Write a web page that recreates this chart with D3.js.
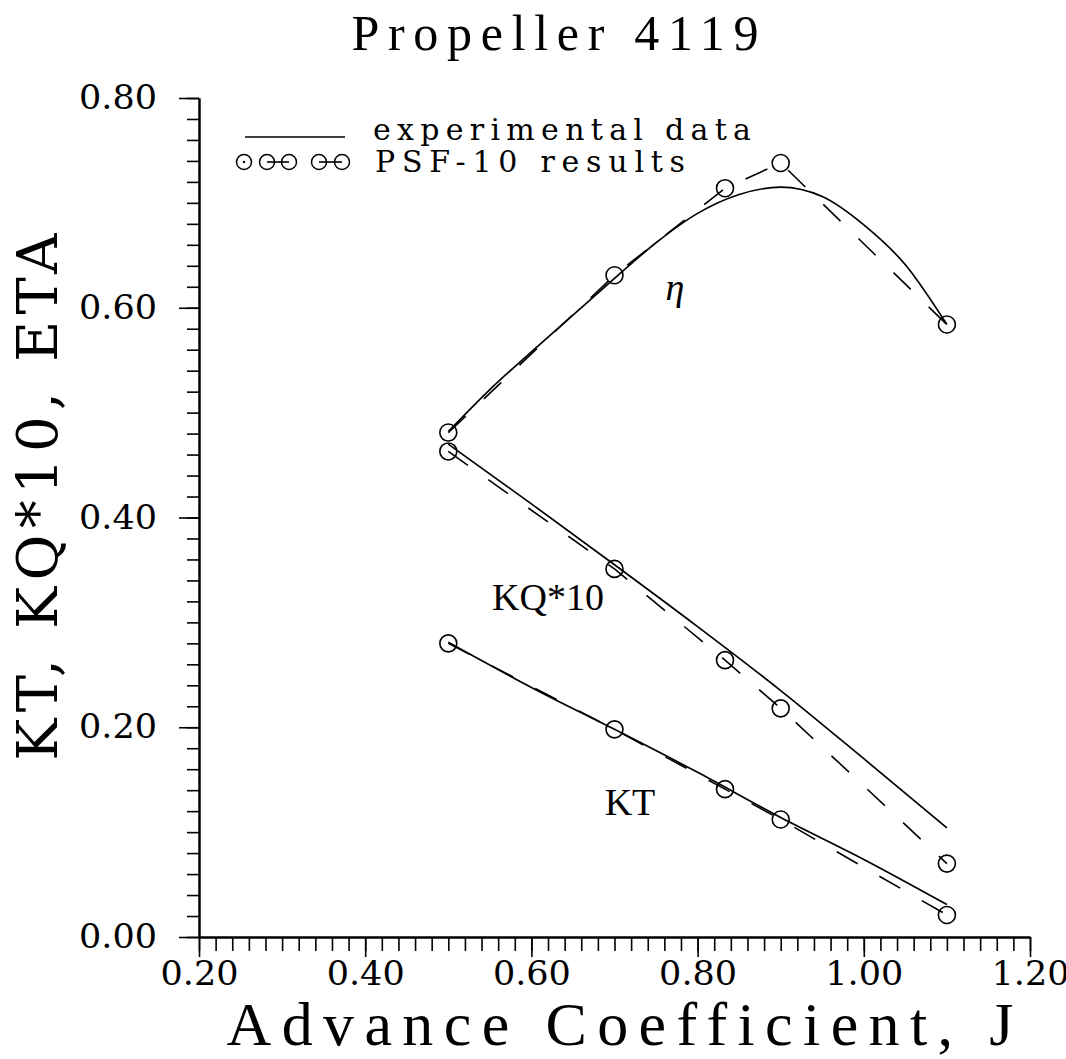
<!DOCTYPE html>
<html>
<head>
<meta charset="utf-8">
<script src="https://cdn.jsdelivr.net/npm/d3@7"></script>
<style>
  body { margin: 0; background: #fff; }
</style>
</head>
<body>
<div id="chart"></div>
<script>
var chartWidth = 1066;
var chartHeight = 1059;

// Experimental data (solid curves)
var etaJ = [0.5, 0.55, 0.6, 0.65, 0.7, 0.75, 0.8, 0.85, 0.9, 0.95, 1.0, 1.05, 1.1];
var etaExp = [0.482, 0.522, 0.558, 0.593, 0.628, 0.662, 0.690, 0.708, 0.715, 0.706, 0.679, 0.641, 0.584];
var coefJ = [0.5, 0.6, 0.7, 0.8, 0.9, 1.0, 1.1];
var kqExp = [0.470, 0.413, 0.355, 0.296, 0.235, 0.170, 0.104];
var ktExp = [0.281, 0.238, 0.198, 0.157, 0.114, 0.074, 0.031];

// PSF-10 results (circles + dashed)
var psfJ = [0.5, 0.7, 0.833, 0.9, 1.1];
var psfETA = [0.481, 0.631, 0.714, 0.738, 0.584];
var psfKQ = [0.463, 0.351, 0.264, 0.218, 0.070];
var psfKT = [0.280, 0.198, 0.141, 0.112, 0.021];

var xTicks = [0.2, 0.4, 0.6, 0.8, 1.0, 1.2];
var yTicks = [0.0, 0.2, 0.4, 0.6, 0.8];

var serif = '"Liberation Serif", "Times New Roman", serif';
var wide = '"DejaVu Serif", serif';

var svg = d3.select('#chart')
    .append('svg')
    .attr('width', chartWidth)
    .attr('height', chartHeight);

// Scales
var scaleX = d3.scaleLinear().domain([0.2, 1.2]).range([199, 1030]);
var scaleY = d3.scaleLinear().domain([0, 0.8]).range([937, 98]);

var xMinor = d3.range(0, 51).map(function(i) { return 0.2 + i * 0.02; });
var yMinor = d3.range(0, 41).map(function(i) { return i * 0.02; });

// Axes (minor ticks first, then majors with labels)
var gxMinor = svg.append('g')
    .attr('transform', 'translate(0,937)')
    .call(d3.axisBottom(scaleX).tickValues(xMinor).tickSize(14).tickSizeOuter(0));
gxMinor.selectAll('text').remove();
var gx = svg.append('g')
    .attr('transform', 'translate(0,937)')
    .call(d3.axisBottom(scaleX).tickValues(xTicks).tickSize(20).tickSizeOuter(0).tickPadding(5)
      .tickFormat(d3.format('.2f')));

var gyMinor = svg.append('g')
    .attr('transform', 'translate(199,0)')
    .call(d3.axisLeft(scaleY).tickValues(yMinor).tickSize(12).tickSizeOuter(0));
gyMinor.selectAll('text').remove();
var gy = svg.append('g')
    .attr('transform', 'translate(199,0)')
    .call(d3.axisLeft(scaleY).tickValues(yTicks).tickSize(20).tickSizeOuter(0).tickPadding(22)
      .tickFormat(d3.format('.2f')));

svg.selectAll('.domain').attr('stroke', '#000').attr('stroke-width', 2);
svg.selectAll('.tick line').attr('stroke', '#000').attr('stroke-width', 1.6);
[gx, gy].forEach(function(g) {
  g.selectAll('text')
      .style('font-family', wide)
      .style('font-size', '33px')
      .attr('fill', '#000')
      .attr('textLength', 78)
      .attr('lengthAdjust', 'spacingAndGlyphs');
});

// Lines
var line = d3.line()
    .x(function(d) { return scaleX(d[0]); })
    .y(function(d) { return scaleY(d[1]); });
var smooth = d3.line()
    .curve(d3.curveMonotoneX)
    .x(function(d) { return scaleX(d[0]); })
    .y(function(d) { return scaleY(d[1]); });

var expSeries = [d3.zip(etaJ, etaExp), d3.zip(coefJ, kqExp), d3.zip(coefJ, ktExp)];
var psfSeries = [d3.zip(psfJ, psfETA), d3.zip(psfJ, psfKQ), d3.zip(psfJ, psfKT)];

svg.selectAll('path.exp')
    .data(expSeries)
    .enter()
    .append('path')
    .attr('class', 'exp')
    .attr('d', smooth)
    .attr('fill', 'none')
    .attr('stroke', '#000')
    .attr('stroke-width', 1.7);

svg.selectAll('path.psf')
    .data(psfSeries)
    .enter()
    .append('path')
    .attr('class', 'psf')
    .attr('d', line)
    .attr('fill', 'none')
    .attr('stroke', '#000')
    .attr('stroke-width', 1.6)
    .attr('stroke-dasharray', '24,25');

// Circles
svg.selectAll('circle.psf')
    .data(d3.merge(psfSeries))
    .enter()
    .append('circle')
    .attr('class', 'psf')
    .attr('cx', function(d) { return scaleX(d[0]); })
    .attr('cy', function(d) { return scaleY(d[1]); })
    .attr('r', 8.5)
    .attr('fill', 'none')
    .attr('stroke', '#000')
    .attr('stroke-width', 1.6);

// Helper for plain text
function label(x, y, size, family, str) {
  return svg.append('text')
      .attr('x', x)
      .attr('y', y)
      .style('font-family', family)
      .style('font-size', size + 'px')
      .attr('fill', '#000')
      .text(str);
}

// Curve labels
label(675, 300, 38, serif, 'η').attr('text-anchor', 'middle').style('font-style', 'italic');
label(548, 610, 38, serif, 'KQ*10').attr('text-anchor', 'middle');
label(630, 815, 38, serif, 'KT').attr('text-anchor', 'middle');

// Legend
svg.append('line').attr('x1', 245).attr('x2', 345).attr('y1', 137).attr('y2', 137)
    .attr('stroke', '#000').attr('stroke-width', 1.7);
label(373, 140, 30, wide, 'experimental data')
    .attr('textLength', 378).attr('lengthAdjust', 'spacing');
var legendDots = [244, 267, 289, 319, 342];
svg.append('line').attr('x1', 267).attr('x2', 289).attr('y1', 162).attr('y2', 162)
    .attr('stroke', '#000').attr('stroke-width', 1.6);
svg.append('line').attr('x1', 319).attr('x2', 342).attr('y1', 162).attr('y2', 162)
    .attr('stroke', '#000').attr('stroke-width', 1.6);
svg.selectAll('circle.legend')
    .data(legendDots)
    .enter()
    .append('circle')
    .attr('class', 'legend')
    .attr('cx', function(d) { return d; })
    .attr('cy', 162)
    .attr('r', 7.5)
    .attr('fill', 'none')
    .attr('stroke', '#000')
    .attr('stroke-width', 1.5);
svg.append('circle').attr('cx', 244).attr('cy', 162).attr('r', 1.2).attr('fill', '#000');
label(375, 172, 30, wide, 'PSF-10 results')
    .attr('textLength', 310).attr('lengthAdjust', 'spacing');

// Titles
label(555, 50, 50, serif, 'Propeller 4119')
    .attr('text-anchor', 'middle').attr('textLength', 407).attr('lengthAdjust', 'spacing');
label(620, 1045, 62, serif, 'Advance Coefficient, J')
    .attr('text-anchor', 'middle').attr('textLength', 787).attr('lengthAdjust', 'spacing');
svg.append('text')
    .attr('transform', 'translate(57,497) rotate(-90)')
    .attr('text-anchor', 'middle')
    .style('font-family', wide)
    .style('font-size', '56px')
    .attr('fill', '#000')
    .attr('textLength', 527).attr('lengthAdjust', 'spacing')
    .text('KT, KQ*10, ETA');
</script>
</body>
</html>
